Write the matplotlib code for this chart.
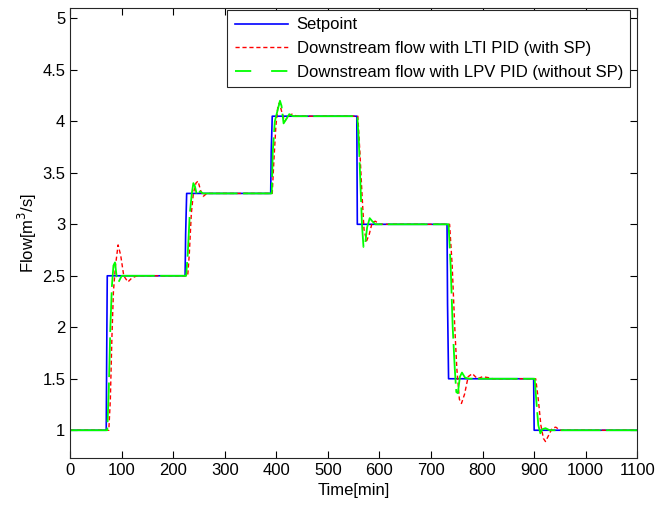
import matplotlib
matplotlib.use("Agg")
import matplotlib.pyplot as plt

# setpoint (blue)
sp_t = [0, 70, 71, 72, 223, 224, 226, 389, 390, 392, 556, 557, 731, 732, 734, 899, 900, 1100]
sp_y = [1, 1, 1.8, 2.5, 2.5, 2.9, 3.3, 3.3, 3.7, 4.05, 4.05, 3.0, 3.0, 2.23, 1.5, 1.5, 1.0, 1.0]

# downstream flow, LTI PID with SP (red)
lti_t = [0, 75, 78, 81, 84, 88, 93, 98, 104, 112, 120, 130,
         228, 231, 235, 239, 244, 248, 253, 258, 265,
         392, 395, 399, 403, 406, 410, 416, 422, 430, 440,
         558, 562, 566, 570, 575, 580, 586, 592, 600,
         736, 741, 746, 750, 755, 759, 765, 772, 780, 790, 800, 812, 820,
         903, 908, 913, 918, 922, 928, 935, 942, 950, 1100]
lti_y = [1, 1, 1.3, 1.9, 2.35, 2.6, 2.8, 2.7, 2.5, 2.44, 2.48, 2.5,
         2.5, 2.7, 3.1, 3.3, 3.40, 3.42, 3.33, 3.27, 3.30,
         3.3, 3.6, 3.95, 4.15, 4.18, 4.10, 4.00, 4.04, 4.07, 4.05,
         4.05, 3.7, 3.3, 2.95, 2.84, 2.90, 3.02, 3.03, 3.0,
         3.0, 2.6, 2.0, 1.6, 1.3, 1.26, 1.35, 1.52, 1.55, 1.50, 1.52, 1.51, 1.5,
         1.5, 1.3, 1.05, 0.92, 0.89, 0.95, 1.02, 1.03, 1.0, 1.0]

# downstream flow, LPV PID without SP (green)
lpv_t = [0, 72, 75, 78, 81, 84, 87, 90, 94, 100,
         225, 228, 232, 236, 239, 242, 246, 252, 258,
         391, 393, 397, 402, 407, 410, 414, 419, 425, 432,
         557, 560, 563, 566, 569, 572, 576, 581, 586, 592,
         734, 738, 742, 746, 749, 752, 756, 760, 766, 775,
         901, 904, 908, 912, 916, 922, 930, 1100]
lpv_y = [1, 1, 1.4, 2.0, 2.4, 2.6, 2.63, 2.5, 2.44, 2.5,
         2.5, 2.7, 3.1, 3.3, 3.40, 3.37, 3.28, 3.32, 3.3,
         3.3, 3.7, 4.0, 4.1, 4.2, 4.15, 3.98, 4.02, 4.07, 4.05,
         4.05, 3.8, 3.4, 3.0, 2.78, 2.80, 2.97, 3.06, 3.03, 3.0,
         3.0, 2.6, 2.0, 1.6, 1.37, 1.36, 1.52, 1.56, 1.51, 1.5,
         1.5, 1.3, 1.05, 0.97, 1.01, 1.02, 1.0, 1.0]

x_ticks = list(range(0, 1101, 100))
y_ticks = [1, 1.5, 2, 2.5, 3, 3.5, 4, 4.5, 5]
y_labels = ["1", "1.5", "2", "2.5", "3", "3.5", "4", "4.5", "5"]

plt.rcParams['font.family'] = ['Liberation Sans', 'DejaVu Sans']
plt.rcParams['font.size'] = 12

fig = plt.figure(figsize=(6.68, 5.05), dpi=100)
ax = fig.add_axes([0.105, 0.093, 0.849, 0.891])

ax.plot(sp_t, sp_y, color='#0000ff', lw=1.2, label='Setpoint')
ax.plot(lti_t, lti_y, color='#ff0000', lw=1.0, linestyle=(0, (3, 2)),
        label='Downstream flow with LTI PID (with SP)')
ax.plot(lpv_t, lpv_y, color='#00ff00', lw=1.3, linestyle=(0, (22, 3)),
        label='Downstream flow with LPV PID (without SP)')

ax.set_xlim(0, 1100)
ax.set_ylim(0.73, 5.1)
ax.set_xticks(x_ticks)
ax.set_yticks(y_ticks)
ax.set_yticklabels(y_labels)
ax.tick_params(direction='in', top=True, right=True, length=5, width=0.8)
for s in ax.spines.values():
    s.set_color('#262626')
    s.set_linewidth(0.8)

ax.set_xlabel('Time[min]', labelpad=4)
ax.set_ylabel('Flow[m$^3$/s]', labelpad=2)

leg = ax.legend(loc='upper right', bbox_to_anchor=(0.988, 0.996), fancybox=False,
                framealpha=1, edgecolor='#262626', handlelength=3.2,
                handletextpad=0.5, borderpad=0.45, labelspacing=0.52,
                borderaxespad=0)
leg.get_frame().set_linewidth(0.8)
# green legend handle with wider gaps like the original
leg.get_lines()[2].set_linestyle((0, (9, 11)))

fig.savefig('out.png', dpi=100)
